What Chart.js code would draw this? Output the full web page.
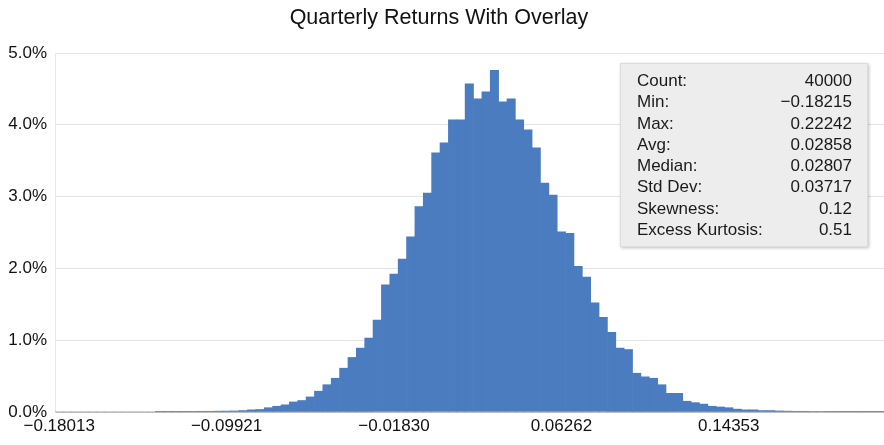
<!DOCTYPE html>
<html>
<head>
<meta charset="utf-8">
<script src="https://cdn.jsdelivr.net/npm/chart.js@4.4.1/dist/chart.umd.min.js"></script>
<style>
  html, body { margin: 0; padding: 0; background: #fff; overflow: hidden; }
  #wrap { position: relative; width: 894px; height: 445px; }
  #title {
    position: absolute; left: 0; top: 5px; width: 878px; text-align: center;
    font-family: "Liberation Sans", Arial, sans-serif; font-size: 21.5px; line-height: 25px; color: #111;
  }
  #stats {
    position: absolute; left: 620px; top: 63px; width: 248px; height: 184px;
    box-sizing: border-box; padding: 6px 15px 0 16px;
    background: #ededed; border: 1px solid #dcdcdc;
    box-shadow: 1px 1px 3px rgba(0,0,0,0.25);
    font-family: "Liberation Sans", Arial, sans-serif; font-size: 17px; color: #1a1a1a;
  }
  #stats .row { display: flex; justify-content: space-between; line-height: 21.3px; }
</style>
</head>
<body>
<div id="wrap">
  <canvas id="myChart"></canvas>
  <div id="title">Quarterly Returns With Overlay</div>
  <div id="stats"></div>
</div>
<script>
// histogram: 100 bins between min and max, heights in % of count
const histMin = -0.18215;
const histMax = 0.22242;
const binPct = [
  0, 0, 0, 0, 0, 0, 0, 0, 0, 0,
  0, 0, 0.003, 0.003, 0.003, 0.003, 0.004, 0.01, 0.01, 0.012,
  0.013, 0.015, 0.02, 0.03, 0.035, 0.06, 0.08, 0.10, 0.14, 0.16,
  0.21, 0.29, 0.38, 0.47, 0.61, 0.76, 0.89, 1.03, 1.28, 1.77,
  1.92, 2.13, 2.44, 2.86, 3.05, 3.61, 3.75, 4.07, 4.07, 4.57,
  4.36, 4.46, 4.76, 4.32, 4.36, 4.07, 3.93, 3.68, 3.19, 3.02,
  2.51, 2.49, 2.03, 1.88, 1.52, 1.32, 1.11, 0.89, 0.87, 0.54,
  0.49, 0.47, 0.38, 0.26, 0.26, 0.15, 0.13, 0.11, 0.08, 0.07,
  0.06, 0.04, 0.03, 0.03, 0.02, 0.02, 0.015, 0.012, 0.01, 0.01,
  0.008, 0.006, 0.005, 0.004, 0.003, 0.003, 0.002, 0.002, 0.001, 0.001
];
const tickLabels = ['\u22120.18013', '\u22120.09921', '\u22120.01830', '0.06262', '0.14353'];
const tickEvery = 20;

const statLabels = ['Count:', 'Min:', 'Max:', 'Avg:', 'Median:', 'Std Dev:', 'Skewness:', 'Excess Kurtosis:'];
const statValues = ['40000', '\u22120.18215', '0.22242', '0.02858', '0.02807', '0.03717', '0.12', '0.51'];

// bin centres as categories
const binWidth = (histMax - histMin) / binPct.length;
const binCenters = binPct.map((v, i) => (histMin + (i + 0.5) * binWidth).toFixed(5));

// boîte des statistiques
const stats = document.getElementById('stats');
statLabels.forEach((lab, i) => {
  const row = document.createElement('div');
  row.className = 'row';
  row.innerHTML = '<span>' + lab + '</span><span>' + statValues[i] + '</span>';
  stats.appendChild(row);
});

const font = 'Liberation Sans';
const canvas = document.getElementById('myChart');

new Chart(canvas, {
  type: 'bar',
  data: {
    labels: binCenters,
    datasets: [{
      data: binPct,
      backgroundColor: '#4b7cc0',
      borderWidth: 0,
      barPercentage: 1,
      categoryPercentage: 1
    }]
  },
  options: {
    responsive: true,
    maintainAspectRatio: false,
    animation: false,
    layout: { padding: { left: 0, right: 2, top: 53, bottom: 0 } },
    plugins: {
      legend: { display: false },
      tooltip: { enabled: false },
      title: { display: false }
    },
    scales: {
      x: {
        grid: { display: false, drawTicks: false },
        border: { display: true, color: '#bdbdbd' },
        ticks: {
          autoSkip: false,
          maxRotation: 0,
          padding: 4,
          color: '#111',
          font: { family: font, size: 17 },
          callback: function(value, index) {
            return index % tickEvery === 0 ? tickLabels[index / tickEvery] : '';
          }
        },
        afterFit: function(scale) { scale.height = 33; }
      },
      y: {
        min: 0,
        max: 5,
        grid: { color: '#e4e4e4', drawTicks: false },
        border: { display: true, color: '#e8e8e8' },
        ticks: {
          stepSize: 1,
          padding: 8,
          color: '#111',
          font: { family: font, size: 17 },
          callback: v => v.toFixed(1) + '%'
        },
        afterFit: function(scale) { scale.width = 55; }
      }
    }
  }
});
</script>
</body>
</html>
